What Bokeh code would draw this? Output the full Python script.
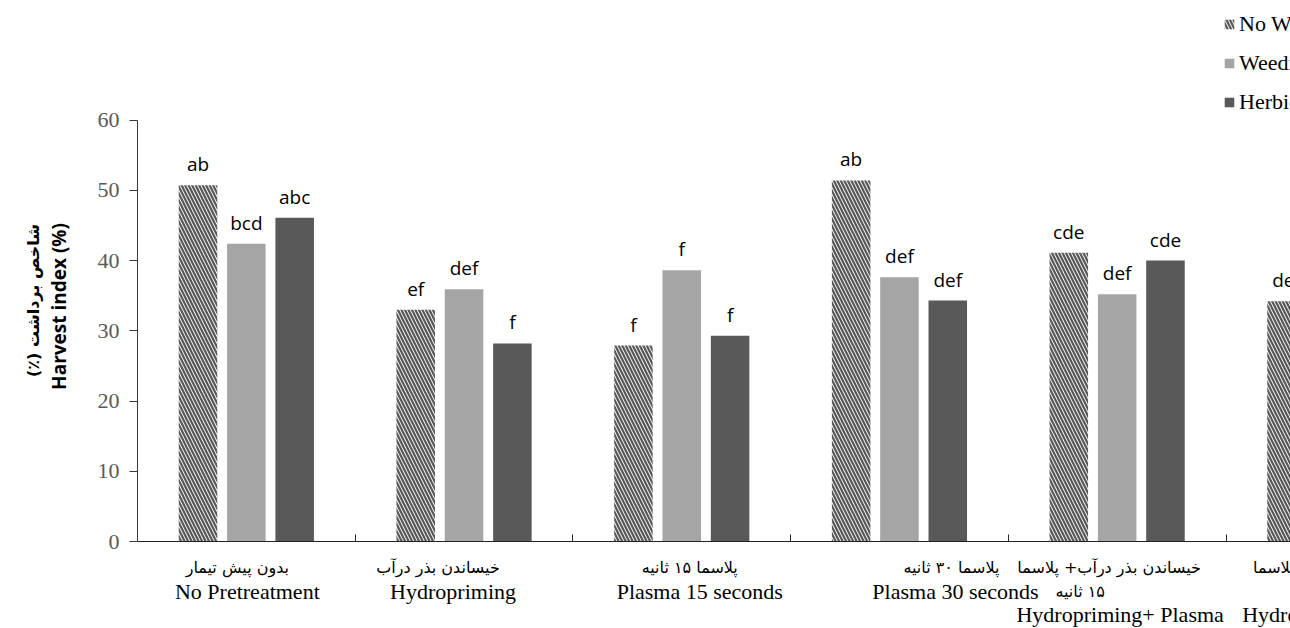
import math
import numpy as np
from bokeh.plotting import figure
from bokeh.layouts import row, column
from bokeh.models import Range1d, FixedTicker, Legend, LegendItem, ColumnDataSource
from bokeh.core.properties import value
from bokeh.embed import file_html
from bokeh.resources import INLINE

# ---------------- data ----------------
categories_fa = [
    "بدون پیش تیمار",
    "خیساندن بذر درآب",
    "پلاسما ۱۵ ثانیه",
    "پلاسما ۳۰ ثانیه",
    "خیساندن بذر درآب+ پلاسما\n۱۵ ثانیه",
    "خیساندن بذر درآب+ پلاسما\n۳۰ ثانیه",
]
categories_en = [
    "No Pretreatment",
    "Hydropriming",
    "Plasma 15 seconds",
    "Plasma 30 seconds",
    "Hydropriming+ Plasma\n15 seconds",
    "Hydropriming+ Plasma\n30 seconds",
]
series_names = ["No Weeding", "Weeding", "Herbicide"]
no_weeding = [50.7, 33.0, 27.9, 51.4, 41.1, 34.2]
weeding = [42.4, 35.9, 38.6, 37.6, 35.2, float("nan")]
herbicide = [46.1, 28.2, 29.3, 34.3, 40.0, float("nan")]
letters_no_weeding = ["ab", "ef", "f", "ab", "cde", "def"]
letters_weeding = ["bcd", "def", "f", "def", "def", ""]
letters_herbicide = ["abc", "f", "f", "def", "cde", ""]
y_ticks = [0, 10, 20, 30, 40, 50, 60]
y_max = 60
y_title_fa = "شاخص برداشت (٪)"
y_title_en = "Harvest index (%)"

RLM = "\u200f"
def rtl(s):
    return RLM + s + RLM

# ---------------- layout / style ----------------
W, H = 1290, 628
TITLE_W = 90                      # left strip holding the y title
FRAME_L = 137                     # page x of the value axis
AXIS_Y = 541                      # page y of value 0
TOP_Y = 119.5                     # page y of value 60
A_H = 556                         # height of main chart
UNIT = 217.7                      # px per category
x_end = (W - FRAME_L) / UNIT      # chart is cropped on the right, like the reference
px_per_val = (AXIS_Y - TOP_Y) / y_max
BAR_W = 0.177
STEP = 0.222
HATCH_GRAY = "#5a5a5a"
LIGHT = "#a5a5a5"
DARK = "#595959"

def bare(fig):
    fig.outline_line_color = None
    fig.background_fill_color = "white"
    fig.border_fill_color = "white"
    fig.xgrid.visible = False
    fig.ygrid.visible = False

# ---- y title strip ----
t = figure(width=TITLE_W, height=H, x_range=Range1d(0, TITLE_W), y_range=Range1d(H, 0),
           output_backend="svg", toolbar_location=None, x_axis_location=None,
           y_axis_location=None, min_border=0)
bare(t)
t.text(x=[33], y=[300], text=[rtl(y_title_fa)], angle=math.pi / 2,
       text_font=value("DejaVu Sans"), text_font_style="bold", text_font_size="16px",
       text_align="center", text_baseline="middle", text_color="#000000")
t.text(x=[58], y=[306], text=[y_title_en], angle=math.pi / 2,
       text_font=value("Open Sans"), text_font_style="bold", text_font_size="19px",
       text_align="center", text_baseline="middle", text_color="#000000")

# ---- main chart ----
x_range = Range1d(0, x_end)
p = figure(width=W - TITLE_W, height=A_H, x_range=x_range,
           y_range=Range1d(0, AXIS_Y / px_per_val),
           output_backend="svg", toolbar_location=None,
           min_border_left=FRAME_L - TITLE_W, min_border_right=0,
           min_border_top=0, min_border_bottom=A_H - AXIS_Y)
bare(p)

n = len(categories_en)
centers = np.arange(n) + 0.5
series = [no_weeding, weeding, herbicide]
letters = [letters_no_weeding, letters_weeding, letters_herbicide]
styles = [
    dict(fill_color="white", hatch_pattern="\\", hatch_color=HATCH_GRAY,
         hatch_scale=7, hatch_weight=2.3),
    dict(fill_color=LIGHT),
    dict(fill_color=DARK),
]
renderers = []
for k, (vals, labs, st) in enumerate(zip(series, letters, styles)):
    xs = centers + (k - 1) * STEP
    src = ColumnDataSource(dict(x=xs, top=vals, lab=labs))
    r = p.vbar(x="x", top="top", bottom=0, width=BAR_W, source=src,
               line_color=None, **st)
    renderers.append(r)
    p.text(x="x", y="top", text="lab", source=src,
           text_font=value("Open Sans"), text_font_size="19px",
           text_align="center", text_baseline="bottom", y_offset=-8,
           text_color="#000000")

p.yaxis.ticker = FixedTicker(ticks=y_ticks)
p.yaxis.bounds = (0, y_max)
p.yaxis.minor_tick_line_color = None
p.yaxis.major_tick_out = 8
p.yaxis.major_tick_in = 0
p.yaxis.major_label_standoff = 10
p.yaxis.major_label_text_font = "Liberation Serif"
p.yaxis.major_label_text_font_size = "22px"
p.yaxis.major_label_text_color = "#595959"
p.yaxis.axis_line_color = "#3a3a3a"
p.yaxis.major_tick_line_color = "#3a3a3a"

p.xaxis.ticker = FixedTicker(ticks=list(range(1, n)))
p.xaxis.minor_tick_line_color = None
p.xaxis.major_tick_in = 7
p.xaxis.major_tick_out = 0
p.xaxis.major_label_standoff = 0
p.xaxis.major_label_text_font_size = "0px"
p.xaxis.major_label_overrides = {i: "" for i in range(1, n)}
p.xaxis.axis_line_color = "#222222"
p.xaxis.major_tick_line_color = "#222222"

legend = Legend(items=[LegendItem(label=nm, renderers=[r]) for nm, r in zip(series_names, renderers)],
                location=(1223 - FRAME_L, AXIS_Y - 115), orientation="vertical",
                glyph_width=12, glyph_height=12, label_standoff=4, spacing=13,
                padding=0, margin=0, border_line_color=None, background_fill_alpha=0,
                label_text_font="Liberation Serif", label_text_font_size="22px",
                label_text_color="#000000", label_height=12)
p.add_layout(legend)

# ---- category labels strip (below the axis) ----
B_H = H - A_H
b = figure(width=W - TITLE_W, height=B_H, x_range=x_range, y_range=Range1d(B_H, 0),
           output_backend="svg", toolbar_location=None, x_axis_location=None,
           y_axis_location=None, min_border_left=FRAME_L - TITLE_W, min_border_right=0,
           min_border_top=0, min_border_bottom=0)
bare(b)

ROW_Y = [567 - A_H, 591 - A_H, 614 - A_H, 638 - A_H]
fa_offsets = [[-9], [-26], [8], [52], [-8, -37], [10, -20]]
en_offsets = [[1], [-11], [18], [56], [3, 0], [11, 0]]
fa_rows = dict(x=[], y=[], t=[], dx=[])
en_rows = dict(x=[], y=[], t=[], dx=[])
for i in range(n):
    r_i = 0
    for j, line in enumerate(categories_fa[i].split("\n")):
        if ROW_Y[r_i] < B_H:
            fa_rows["x"].append(centers[i]); fa_rows["y"].append(ROW_Y[r_i])
            fa_rows["t"].append(rtl(line)); fa_rows["dx"].append(fa_offsets[i][j])
        r_i += 1
    for j, line in enumerate(categories_en[i].split("\n")):
        if ROW_Y[r_i] < B_H:
            en_rows["x"].append(centers[i]); en_rows["y"].append(ROW_Y[r_i])
            en_rows["t"].append(line); en_rows["dx"].append(en_offsets[i][j])
        r_i += 1

b.text(x="x", y="y", text="t", x_offset="dx", source=ColumnDataSource(fa_rows),
       text_font=value("DejaVu Sans"), text_font_size="16px",
       text_align="center", text_baseline="middle", text_color="#000000")
b.text(x="x", y="y", text="t", x_offset="dx", source=ColumnDataSource(en_rows),
       text_font=value("Liberation Serif"), text_font_size="22px",
       text_align="center", text_baseline="middle", text_color="#000000")

layout = row(t, column(p, b, spacing=0), spacing=0)
open("out.html", "w").write(file_html(layout, INLINE))
